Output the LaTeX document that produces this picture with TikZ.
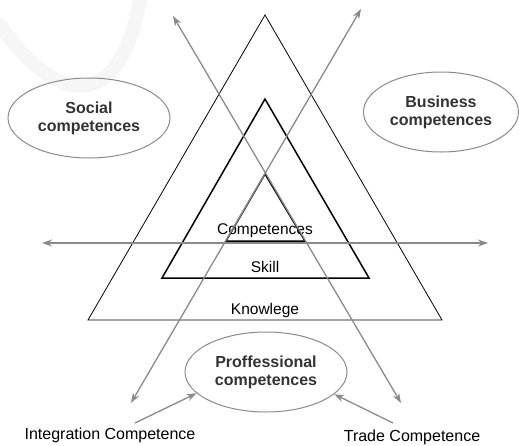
\documentclass[tikz,border=0pt]{standalone}
\usepackage{fontspec}
\setmainfont{Liberation Sans}
\usetikzlibrary{shapes.geometric, arrows.meta}
\definecolor{arrgray}{HTML}{8A8A8A}
\definecolor{txtgray}{HTML}{333333}
\tikzset{
  comp/.style={ellipse, draw=arrgray, line width=1pt, minimum width=162pt, minimum height=80pt,
    inner sep=0pt, align=center, text=txtgray, font=\fontsize{16}{18}\selectfont\bfseries},
  lbl/.style={font=\fontsize{15.5}{17}\selectfont, inner sep=1pt},
  axis/.style={draw=arrgray, line width=1.3pt}
}
\begin{document}
\begin{tikzpicture}[x=1pt, y=-1pt, >={Stealth[length=10pt,width=7pt]}]
    \useasboundingbox (0,0) rectangle (519,445);
    % faint swoosh in the corner
    \draw[gray!7, line width=14pt, line cap=round] (0,25) .. controls (60,110) and (120,110) .. (140,0);
    % triangles
    \draw[line width=0.8pt] (88,320) -- (442,320) -- (265,15) -- cycle;
    \draw[line width=1.5pt] (162,278) -- (369,278) -- (265,99) -- cycle;
    \draw[line width=1.5pt] (226,241) -- (305,241) -- (265,174) -- cycle;
    % levels
    \node[lbl] (comps) at (265,231) {Competences};
    \node[lbl] (skill) at (265,267) {Skill};
    \node[lbl] (know) at (265,310) {Knowlege};
    % arrow ends
    \coordinate (w) at (42,243);
    \coordinate (e) at (488,243);
    \coordinate (nw) at (173,16);
    \coordinate (se) at (401,403);
    \coordinate (ne) at (361,9);
    \coordinate (sw) at (131,403);
    \draw[axis, <->] (w) -- (e);
    \draw[axis, <->] (nw) -- (se);
    \draw[axis, <->] (ne) -- (sw);
    % competences
    \node[comp] (social) at (89,118) {Social\\competences};
    \node[comp, minimum width=155pt] (business) at (441,112) {Business\\competences};
    \node[comp] (prof) at (266,372) {Proffessional\\competences};
    \node[lbl, font=\fontsize{16}{18}\selectfont] (integ) at (110,435) {Integration Competence};
    \node[lbl, font=\fontsize{16}{18}\selectfont] (trade) at (412,437) {Trade Competence};
    \coordinate (i0) at (135,423);
    \coordinate (t0) at (393,423);
    \draw[axis, ->] (i0) -- (prof.197);
    \draw[axis, ->] (t0) -- (prof.-18);
\end{tikzpicture}
\end{document}
